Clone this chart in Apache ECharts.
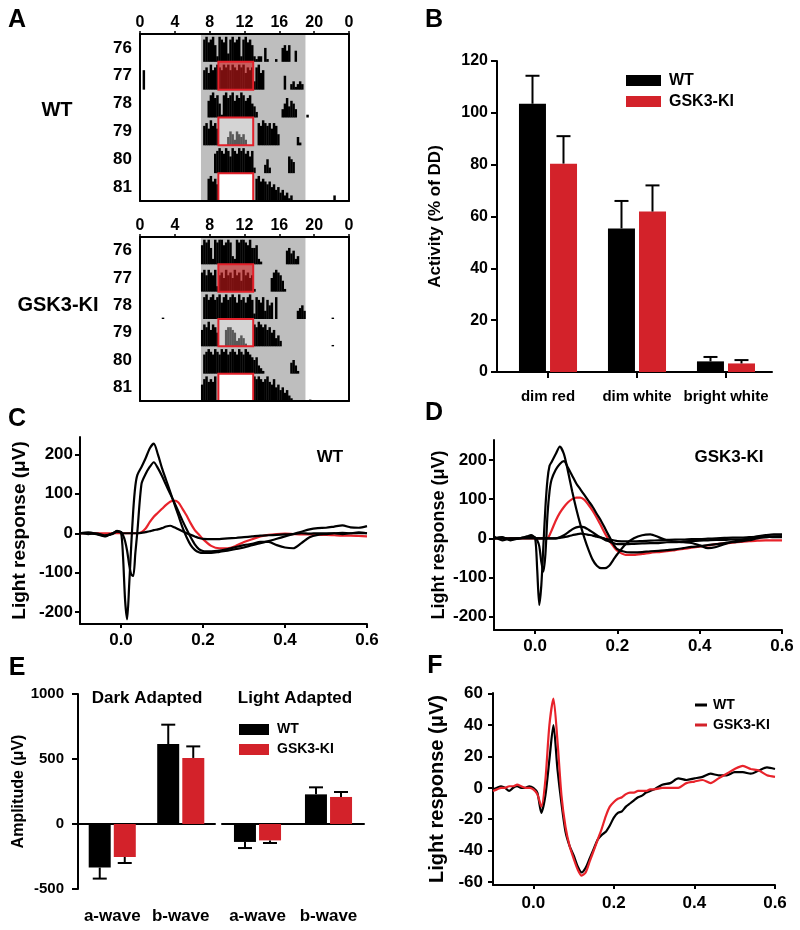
<!DOCTYPE html>
<html><head><meta charset="utf-8">
<script src="https://cdn.jsdelivr.net/npm/echarts@6/dist/echarts.min.js"></script>
<style>html,body{margin:0;padding:0;background:#fff}#c{width:800px;height:930px}</style>
</head><body><div id="c"></div>
<script>
// ---------------- DATA ----------------
// Panel A: actograms (hours 0-24, rows = days 76-81)
const hourTicks = [0, 4, 8, 12, 16, 20, 24];
const dayLabels = ['76', '77', '78', '79', '80', '81'];
const darkPhase = [7, 19];          // shaded (dark) window, hours
const pulseWindow = [9, 13];        // light pulse window, hours
const pulseRows = [1, 3, 5];        // days 77, 79, 81
const pulseKinds = [0, 1, 2];       // 0 dim red, 1 dim white, 2 bright white
const binStart = 7, binWidth = 0.25; // activity bins start at hour 7, 15-min bins
// activity heights per bin (tenths of the row height)
const wtActivity = [
  [0,8,9,7,8,9,6,2,9,8,7,9,3,8,9,7,8,9,2,8,9,7,8,6,2,1,2,2,0,5,1,0,0,0,1,0,0,5,6,4,6,0,0,4,0,0,0,0],
  [0,7,8,6,9,7,8,9,8,7,9,8,9,7,9,8,7,9,8,9,6,8,7,8,3,8,9,6,7,0,0,0,0,0,0,0,0,0,5,0,0,2,3,1,2,3,2,0],
  [0,0,0,6,8,9,7,8,5,1,8,9,7,8,9,6,8,7,9,8,6,7,8,5,4,2,0,0,0,0,0,0,0,0,0,0,0,3,5,7,4,6,5,3,0,0,0,0],
  [0,7,8,6,9,7,8,6,0,0,0,0,3,5,4,2,5,4,3,4,2,0,0,0,0,0,8,7,9,8,7,8,6,8,7,4,0,0,0,0,0,0,0,0,3,1,0,0],
  [0,0,0,0,0,0,7,8,9,8,7,9,8,6,9,8,7,9,8,9,7,8,6,8,2,0,0,0,0,3,5,2,0,0,0,0,0,0,0,0,6,5,4,0,0,0,0,0],
  [0,0,0,8,9,7,8,6,0,0,0,0,0,0,0,0,0,0,0,0,0,0,0,0,0,8,9,7,8,7,6,7,5,6,4,5,3,4,2,3,1,2,0,0,0,0,0,0]
];
const kiActivity = [
  [7,9,8,9,6,2,9,8,9,9,7,8,9,8,3,2,9,8,9,9,8,7,9,6,6,7,2,1,0,0,0,0,0,0,0,0,0,0,0,5,6,4,5,2,3,0,0,0],
  [7,8,6,8,7,6,8,2,6,7,5,8,6,7,5,8,6,7,4,8,6,7,5,6,1,0,0,0,0,0,0,0,5,7,8,7,6,4,1,0,0,0,0,0,0,0,0,0],
  [0,8,9,7,8,9,7,8,9,6,8,9,7,8,9,8,6,9,7,8,6,8,9,7,2,8,7,6,8,3,7,5,6,0,8,0,0,0,0,0,0,0,0,0,3,4,5,3],
  [6,8,7,9,6,8,7,5,0,0,0,6,7,7,6,5,2,3,4,3,1,0,0,0,8,7,9,8,7,8,6,7,5,6,3,4,2,0,0,0,0,0,0,0,0,0,0,0],
  [0,7,8,9,8,7,9,8,7,9,8,9,7,8,9,8,7,9,8,7,9,8,7,6,5,6,3,2,1,0,0,0,0,0,0,0,0,0,0,0,0,4,5,3,1,0,0,0],
  [6,8,9,7,8,7,9,0,0,0,0,0,0,0,0,0,0,0,0,0,0,0,0,0,9,8,9,8,7,8,9,7,6,8,5,6,4,5,3,4,2,1,0,0,0,0,0,0]
];
// isolated activity marks outside the main window: [hour, row, height(tenths)]
const wtStray = [[0.3, 1, 7], [19.1, 2, 1], [22.2, 5, 2]];
const kiStray = [[2.5, 2, 0.5], [22, 2, 0.5], [22, 3, 0.5], [19.4, 5, 0.5]];

// Panel B
const bCats = ['dim red', 'dim white', 'bright white'];
const bPos = [0, 1, 2];
const bWT = [103.5, 55.4, 4.1];
const bWTErr = [10.8, 10.6, 1.7];
const bKI = [80.4, 61.9, 3.3];
const bKIErr = [10.6, 10.1, 1.3];
const bYTicks = [0, 20, 40, 60, 80, 100, 120];

// Panels C & D: ERG traces (time s, response µV)
const ergXTicks = [0, 0.2, 0.4, 0.6];
const ergYTicks = [-200, -100, 0, 100, 200];
const tCD = [-0.1,-0.08,-0.06,-0.04,-0.02,-0.01,0,0.005,0.01,0.015,0.02,0.025,0.03,0.035,0.04,0.05,0.06,0.07,0.08,0.09,0.1,0.11,0.12,0.13,0.14,0.15,0.16,0.17,0.18,0.19,0.2,0.22,0.24,0.26,0.28,0.3,0.32,0.34,0.36,0.38,0.4,0.42,0.44,0.46,0.48,0.5,0.52,0.54,0.56,0.58,0.6];
const cTrace1 = [0,2,-2,-8,0,6,2,-60,-170,-218,-130,-30,60,120,148,168,190,215,227,200,165,135,105,75,45,15,-10,-30,-42,-48,-50,-50,-47,-44,-40,-36,-30,-25,-20,-14,-8,-2,4,10,13,14,17,20,15,14,18];
const cTrace2 = [0,-2,0,-5,-2,4,3,-5,-20,-45,-80,-105,-108,-50,5,125,150,168,180,165,145,122,100,78,55,32,10,-10,-28,-40,-45,-46,-44,-40,-35,-30,-27,-22,-22,-30,-36,-38,-25,-10,-4,-2,0,-2,0,2,0];
const cTrace3 = [0,0,-2,-6,0,5,2,0,0,0,0,0,0,0,0,1,3,5,8,10,13,17,19,15,10,5,0,-4,-8,-12,-14,-15,-15,-13,-12,-10,-8,-6,-5,-4,-3,-2,0,-1,0,0,0,1,0,0,0];
const cRed = [0,0,0,0,0,0,0,0,0,0,0,0,0,0,0,3,12,28,42,52,62,72,80,83,78,62,45,25,8,-3,-15,-32,-38,-38,-32,-22,-15,-8,-4,-2,-1,-2,-3,-3,-4,-4,-5,-6,-6,-7,-8];
const dTrace1 = [5,-5,0,0,5,8,0,-80,-170,-120,-20,80,150,185,195,215,234,215,170,120,75,35,0,-30,-55,-70,-76,-76,-70,-55,-40,-15,0,8,10,3,-5,-8,-10,-12,-18,-25,-22,-15,-8,-5,0,5,8,10,10];
const dTrace2 = [0,3,-5,0,2,5,2,-5,-20,-60,-85,-40,60,120,150,175,190,197,180,160,140,125,110,95,80,62,45,25,5,-15,-28,-35,-36,-35,-33,-32,-30,-28,-25,-22,-20,-17,-15,-12,-10,-8,-5,0,3,5,5];
const dTrace3 = [0,2,-3,0,2,4,1,0,0,0,0,0,0,0,0,0,3,8,15,23,28,30,28,22,15,8,2,-4,-8,-12,-15,-15,-14,-13,-12,-12,-10,-10,-8,-7,-6,-5,-4,-4,-3,-3,-1,2,3,4,5];
const dTrace4 = [0,0,0,0,0,0,0,0,0,0,0,0,0,0,0,0,1,3,5,8,10,12,11,9,7,4,2,-1,-3,-5,-7,-8,-8,-7,-6,-5,-4,-3,-3,-2,-2,-1,0,1,2,2,3,4,4,3,3];
const dRed = [0,0,0,0,0,0,0,0,0,0,0,0,0,8,20,45,65,80,92,100,104,104,98,85,70,52,32,12,-5,-20,-32,-42,-42,-40,-37,-35,-33,-30,-27,-24,-21,-18,-15,-13,-11,-9,-7,-6,-5,-5,-5];

// Panel E
const eCats = ['a-wave', 'b-wave'];
const eYTicks = [-500, 0, 500, 1000];
const eDarkWT = [-335, 615];
const eDarkWTErr = [85, 149];
const eDarkKI = [-254, 508];
const eDarkKIErr = [46, 89];
const eLightWT = [-138, 228];
const eLightWTErr = [47, 54];
const eLightKI = [-126, 208];
const eLightKIErr = [20, 38];

// Panel F
const fYTicks = [-60, -40, -20, 0, 20, 40, 60];
const tF = [-0.1,-0.09,-0.08,-0.07,-0.06,-0.05,-0.04,-0.03,-0.02,-0.01,0,0.01,0.02,0.03,0.04,0.05,0.06,0.07,0.08,0.09,0.1,0.11,0.12,0.13,0.14,0.15,0.16,0.17,0.18,0.19,0.2,0.21,0.22,0.23,0.24,0.25,0.26,0.27,0.28,0.29,0.3,0.32,0.34,0.36,0.38,0.4,0.42,0.44,0.46,0.48,0.5,0.52,0.54,0.56,0.58,0.6];
const fWT = [-1,0,1,0,-2,0,1,0,0,1,0,-3,-16,-5,18,40,12,-10,-28,-37,-43,-50,-54,-51,-45,-39,-33,-30,-28,-24,-19,-16,-15,-12,-10,-8,-6,-5,-3,-2,-1,2,3,6,5,6,7,9,8,8,10,10,9,11,13,12];
const fKI = [-2,-1,0,0,1,1,2,1,0,0,-1,-4,-12,5,40,57,30,-5,-25,-37,-45,-52,-56,-54,-47,-40,-33,-26,-18,-12,-9,-7,-6,-4,-3,-3,-2,-2,-2,-1,-1,0,0,0,3,4,5,3,6,9,12,14,12,11,8,7];

// ---------------- STYLE / HELPERS ----------------
const FONT = '"Liberation Sans", Arial, Helvetica, sans-serif';
const BLACK = '#000000', RED_BAR = '#d3222a', RED_LINE = '#e8232b';
const AX = {color: BLACK, width: 2};

function actData(rows, stray) {
  const out = [];
  rows.forEach((row, r) => row.forEach((v, i) => { if (v > 0) out.push([binStart + i * binWidth, r, v / 10, binWidth]); }));
  stray.forEach(s => out.push([s[0], s[1], s[2] / 10, binWidth]));
  return out;
}
function shadeRender(params, api) {
  const cs = params.coordSys;
  const x0 = api.coord([api.value(0), 0])[0], x1 = api.coord([api.value(1), 0])[0];
  return {type: 'rect', shape: {x: x0, y: cs.y, width: x1 - x0, height: cs.height}, style: {fill: '#bebebe'}};
}
function actRender(params, api) {
  const h = api.value(0), row = api.value(1), v = api.value(2), w = api.value(3);
  const a = api.coord([h, row]), b = api.coord([h + w, row]);
  const band = api.size([0, 1])[1];
  const bottom = a[1] + band / 2, hh = v * band;
  return {type: 'rect', shape: {x: a[0], y: bottom - hh, width: b[0] - a[0] + 0.3, height: hh}, style: {fill: BLACK}};
}
function boxRender(params, api) {
  const row = api.value(0), s = api.value(1), e = api.value(2), kind = api.value(3);
  const a = api.coord([s, row]), b = api.coord([e, row]);
  const band = api.size([0, 1])[1];
  const fills = ['rgba(207,26,26,0.58)', 'rgba(255,255,255,0.35)', '#ffffff'];
  return {type: 'rect', shape: {x: a[0], y: a[1] - band / 2, width: b[0] - a[0], height: band},
          style: {fill: fills[kind], stroke: '#e3202a', lineWidth: 2}};
}
function errRender(offset, cap) {
  return function (params, api) {
    const c = api.value(0), v = api.value(1), e = api.value(2);
    const end = v >= 0 ? v + e : v - e;
    const p0 = api.coord([c, v]), p1 = api.coord([c, end]);
    const x = p0[0] + offset;
    return {type: 'group', children: [
      {type: 'line', shape: {x1: x, y1: p0[1], x2: x, y2: p1[1]}, style: {stroke: BLACK, lineWidth: 2}},
      {type: 'line', shape: {x1: x - cap / 2, y1: p1[1], x2: x + cap / 2, y2: p1[1]}, style: {stroke: BLACK, lineWidth: 2}}
    ]};
  };
}
const pairs = (xs, ys) => xs.map((x, i) => [x, ys[i]]);

function actoAxes(gridIndex) {
  return {
    x: [
      {gridIndex, type: 'value', position: 'top', min: 0, max: 24, interval: 4, z: 10,
       axisLine: {show: true, onZero: false, lineStyle: AX},
       axisTick: {show: true, length: 3, lineStyle: {color: BLACK, width: 1.5}},
       axisLabel: {formatter: v => String(v % 24), fontSize: 16, fontWeight: 'bold', color: BLACK, margin: 3, fontFamily: FONT},
       splitLine: {show: false}},
      {gridIndex, type: 'value', position: 'bottom', min: 0, max: 24, z: 10,
       axisLine: {show: true, onZero: false, lineStyle: AX}, axisTick: {show: false}, axisLabel: {show: false}, splitLine: {show: false}}
    ],
    y: [
      {gridIndex, type: 'category', data: dayLabels, inverse: true, position: 'left', z: 10,
       axisLine: {show: true, onZero: false, lineStyle: AX}, axisTick: {show: false},
       axisLabel: {interval: 0, fontSize: 17, fontWeight: 'bold', color: BLACK, margin: 8, fontFamily: FONT}},
      {gridIndex, type: 'category', data: dayLabels, inverse: true, position: 'right', z: 10,
       axisLine: {show: true, onZero: false, lineStyle: AX}, axisTick: {show: false}, axisLabel: {show: false}}
    ]
  };
}
function ergAxes(gridIndex, ymin, ymax, yTicks, nameGap, nameSize, labelSize, xMargin) {
  return {
    x: {gridIndex, type: 'value', min: -0.1, max: 0.6,
        axisLine: {show: true, onZero: false, lineStyle: AX},
        axisTick: {show: true, customValues: ergXTicks, length: 4, lineStyle: {color: BLACK, width: 2}},
        axisLabel: {customValues: ergXTicks, formatter: v => v.toFixed(1), fontSize: labelSize, fontWeight: 'bold', color: BLACK, margin: xMargin, fontFamily: FONT},
        splitLine: {show: false}},
    y: {gridIndex, type: 'value', min: ymin, max: ymax,
        axisLine: {show: true, onZero: false, lineStyle: AX},
        axisTick: {show: true, customValues: yTicks, length: 5, lineStyle: {color: BLACK, width: 2}},
        axisLabel: {customValues: yTicks, formatter: v => String(v), fontSize: labelSize, fontWeight: 'bold', color: BLACK, margin: 7, fontFamily: FONT},
        splitLine: {show: false},
        name: 'Light response (\u03bcV)', nameLocation: 'middle', nameGap: nameGap,
        nameTextStyle: {fontSize: nameSize, fontWeight: 'bold', color: BLACK, fontFamily: FONT}}
  };
}
function lineSeries(name, xi, yi, xs, ys, color, z) {
  return {type: 'line', name, xAxisIndex: xi, yAxisIndex: yi, data: pairs(xs, ys), showSymbol: false, symbol: 'none',
          smooth: 0.25, lineStyle: {color, width: 2.2}, itemStyle: {color}, z: z || 2};
}

const A1 = actoAxes(0), A2 = actoAxes(1);
const C = ergAxes(3, -230, 244, ergYTicks, 51, 19, 17, 8);
const D = ergAxes(4, -234, 251, ergYTicks, 46, 18, 17, 8);
const F = ergAxes(7, -62, 60.5, fYTicks, 46, 20, 17, 10);
F.y.axisLabel.margin = 10;

const eLabelAxis = (gridIndex) => ({gridIndex, type: 'category', data: eCats, position: 'bottom',
  axisLine: {show: false, onZero: false}, axisTick: {show: false},
  axisLabel: {interval: 0, hideOverlap: false, fontSize: 17, fontWeight: 'bold', color: BLACK, margin: 19, fontFamily: FONT}});
const eZeroAxis = (gridIndex) => ({gridIndex, type: 'category', data: eCats, position: 'bottom',
  axisLine: {show: true, onZero: true, lineStyle: AX}, axisTick: {show: false}, axisLabel: {show: false}});

const grids = [
  {left: 140, top: 34, width: 209, height: 167},
  {left: 140, top: 237, width: 209, height: 164},
  {left: 497, top: 61, width: 275, height: 311},
  {left: 80, top: 437, width: 287, height: 187},
  {left: 494, top: 440, width: 288, height: 190},
  {left: 78, top: 694, width: 137, height: 195},
  {left: 222, top: 694, width: 142, height: 195},
  {left: 493, top: 693, width: 282, height: 192}
].map(g => Object.assign({outerBoundsMode: 'none', containLabel: false}, g));

const xAxes = [
  A1.x[0], A1.x[1], A2.x[0], A2.x[1],
  {gridIndex: 2, type: 'value', min: -0.573, max: 2.517,
   axisLine: {show: true, onZero: false, lineStyle: AX},
   axisTick: {show: true, customValues: bPos, length: 6, lineStyle: {color: BLACK, width: 2}},
   axisLabel: {customValues: bPos, formatter: v => bCats[Math.round(v)], fontSize: 15, fontWeight: 'bold', color: BLACK, margin: 17, fontFamily: FONT},
   splitLine: {show: false}},
  C.x, D.x,
  eLabelAxis(5), eZeroAxis(5), eLabelAxis(6), eZeroAxis(6),
  F.x
];
const yAxes = [
  A1.y[0], A1.y[1], A2.y[0], A2.y[1],
  {gridIndex: 2, type: 'value', min: 0, max: 120, interval: 20,
   axisLine: {show: true, onZero: false, lineStyle: AX},
   axisTick: {show: true, length: 6, lineStyle: {color: BLACK, width: 2}},
   axisLabel: {fontSize: 16, fontWeight: 'bold', color: BLACK, margin: 9, fontFamily: FONT},
   splitLine: {show: false},
   name: 'Activity (% of DD)', nameLocation: 'middle', nameGap: 53,
   nameTextStyle: {fontSize: 17, fontWeight: 'bold', color: BLACK, fontFamily: FONT}},
  C.y, D.y,
  {gridIndex: 5, type: 'value', min: -500, max: 1000, interval: 500,
   axisLine: {show: true, onZero: false, lineStyle: AX},
   axisTick: {show: true, length: 6, lineStyle: {color: BLACK, width: 2}},
   axisLabel: {formatter: v => String(v), fontSize: 15, fontWeight: 'bold', color: BLACK, margin: 14, fontFamily: FONT},
   splitLine: {show: false},
   name: 'Amplitude (\u03bcV)', nameLocation: 'middle', nameGap: 44,
   nameTextStyle: {fontSize: 16, fontWeight: 'bold', color: BLACK, fontFamily: FONT}},
  {gridIndex: 6, type: 'value', min: -500, max: 1000, interval: 500, show: false},
  F.y
];

function actoSeries(xi, yi, rows, stray) {
  return [
    {type: 'custom', xAxisIndex: xi, yAxisIndex: yi, renderItem: shadeRender, data: [[darkPhase[0], darkPhase[1], 0]], encode: {x: [0, 1], y: 2}, z: 1, silent: true, clip: true},
    {type: 'custom', xAxisIndex: xi, yAxisIndex: yi, renderItem: actRender, data: actData(rows, stray), encode: {x: 0, y: 1}, z: 2, silent: true},
    {type: 'custom', xAxisIndex: xi, yAxisIndex: yi, renderItem: boxRender,
     data: pulseRows.map((r, i) => [r, pulseWindow[0], pulseWindow[1], pulseKinds[i]]), encode: {x: [1, 2], y: 0}, z: 3, silent: true}
  ];
}
function barPair(xi, yi, wt, ki, cats, width, gap) {
  return [
    {type: 'bar', name: 'WT', xAxisIndex: xi, yAxisIndex: yi, data: cats ? pairs(cats, wt) : wt, barWidth: width, barGap: gap, itemStyle: {color: BLACK}, z: 2},
    {type: 'bar', name: 'GSK3-KI', xAxisIndex: xi, yAxisIndex: yi, data: cats ? pairs(cats, ki) : ki, barWidth: width, barGap: gap, itemStyle: {color: RED_BAR}, z: 2}
  ];
}
function errSeries(xi, yi, idx, vals, errs, offset, cap) {
  return {type: 'custom', xAxisIndex: xi, yAxisIndex: yi, renderItem: errRender(offset, cap),
          data: idx.map((c, i) => [c, vals[i], errs[i]]), encode: {x: 0, y: 1}, z: 4, silent: true};
}

const series = [].concat(
  actoSeries(0, 0, wtActivity, wtStray),
  actoSeries(2, 2, kiActivity, kiStray),
  barPair(4, 4, bWT, bKI, bPos, 27, '15%'),
  [errSeries(4, 4, bPos, bWT, bWTErr, -15.5, 14), errSeries(4, 4, bPos, bKI, bKIErr, 15.5, 14)],
  [lineSeries('C-red', 5, 5, tCD, cRed, RED_LINE, 2),
   lineSeries('C-1', 5, 5, tCD, cTrace1, BLACK, 3),
   lineSeries('C-2', 5, 5, tCD, cTrace2, BLACK, 3),
   lineSeries('C-3', 5, 5, tCD, cTrace3, BLACK, 3)],
  [lineSeries('D-red', 6, 6, tCD, dRed, RED_LINE, 2),
   lineSeries('D-1', 6, 6, tCD, dTrace1, BLACK, 3),
   lineSeries('D-2', 6, 6, tCD, dTrace2, BLACK, 3),
   lineSeries('D-3', 6, 6, tCD, dTrace3, BLACK, 3),
   lineSeries('D-4', 6, 6, tCD, dTrace4, BLACK, 3)],
  barPair(7, 7, eDarkWT, eDarkKI, null, 22, '14%'),
  [errSeries(7, 7, [0, 1], eDarkWT, eDarkWTErr, -12.5, 14), errSeries(7, 7, [0, 1], eDarkKI, eDarkKIErr, 12.5, 14)],
  barPair(9, 8, eLightWT, eLightKI, null, 22, '14%'),
  [errSeries(9, 8, [0, 1], eLightWT, eLightWTErr, -12.5, 14), errSeries(9, 8, [0, 1], eLightKI, eLightKIErr, 12.5, 14)],
  [lineSeries('WT', 11, 9, tF, fWT, BLACK, 2), lineSeries('GSK3-KI', 11, 9, tF, fKI, RED_LINE, 3)]
);

const legendText = (size) => ({fontSize: size, fontWeight: 'bold', color: BLACK, fontFamily: FONT, lineHeight: 16, padding: [0, 0, 0, 3]});
const legends = [
  {left: 626, top: 72.5, orient: 'vertical', icon: 'rect', itemWidth: 35, itemHeight: 11, itemGap: 5, padding: 0,
   data: ['WT', 'GSK3-KI'], selectedMode: false, textStyle: legendText(16)},
  {left: 239, top: 721.5, orient: 'vertical', icon: 'rect', itemWidth: 30, itemHeight: 11, itemGap: 4, padding: 0,
   data: ['WT', 'GSK3-KI'], selectedMode: false, textStyle: legendText(14)},
  {left: 695, top: 697, orient: 'vertical', icon: 'rect', itemWidth: 12, itemHeight: 3, itemGap: 4, padding: 0,
   data: ['WT', 'GSK3-KI'], selectedMode: false, textStyle: Object.assign(legendText(14), {padding: [0, 0, 0, 1]})}
];

function label(text, x, y, size) {
  return {type: 'text', x, y, z: 20, silent: true,
          style: {text, fill: BLACK, font: 'bold ' + size + 'px ' + FONT, align: 'center', verticalAlign: 'middle', textAlign: 'center', textVerticalAlign: 'middle'}};
}
const graphics = [
  label('A', 17, 20, 25), label('B', 434, 20, 25), label('C', 17, 419, 25),
  label('D', 434, 413, 25), label('E', 17, 668, 25), label('F', 435, 666, 25),
  label('WT', 57, 110, 20), label('GSK3-KI', 58, 305, 20),
  label('WT', 330, 457, 17), label('GSK3-KI', 729, 457, 17),
  label('Dark Adapted', 147, 698, 17), label('Light Adapted', 295, 698, 17)
];

const chart = echarts.init(document.getElementById('c'), null, {renderer: 'canvas'});
chart.setOption({
  animation: false,
  backgroundColor: '#ffffff',
  textStyle: {fontFamily: FONT, fontWeight: 'bold', color: BLACK},
  grid: grids,
  xAxis: xAxes,
  yAxis: yAxes,
  legend: legends,
  graphic: graphics,
  series: series
});
</script>
</body></html>
